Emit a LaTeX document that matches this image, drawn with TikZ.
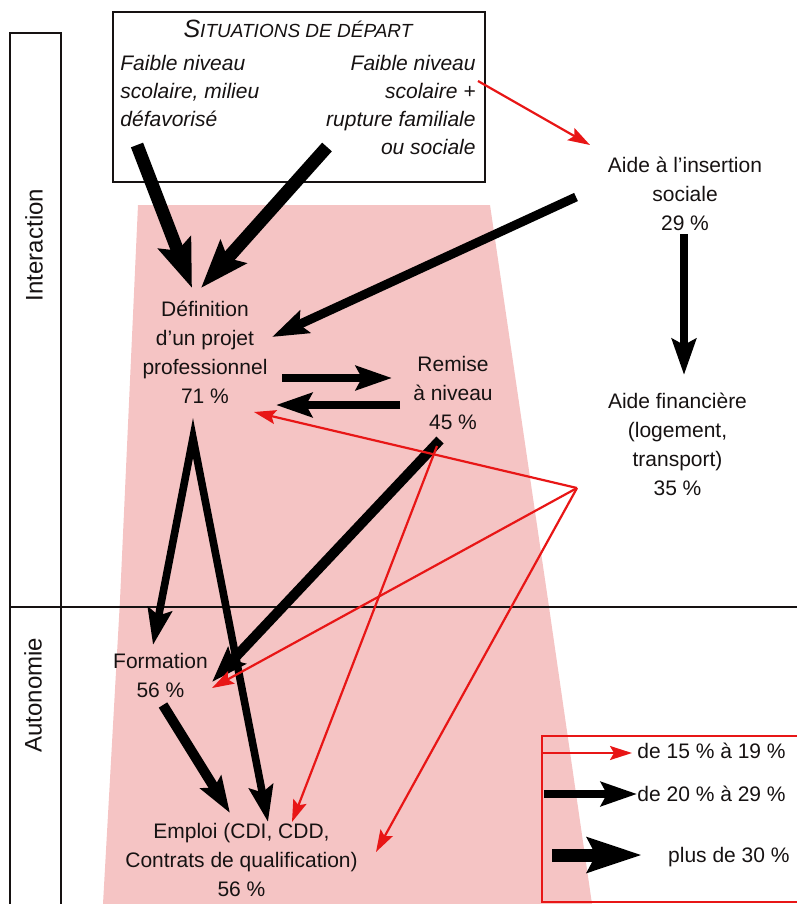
\documentclass[tikz,border=0pt]{standalone}
\usepackage{fontspec}
\setmainfont{Liberation Sans}
\usetikzlibrary{arrows.meta}
\definecolor{pinkbg}{RGB}{245,196,196}
\definecolor{redline}{RGB}{232,22,22}
\definecolor{inkc}{RGB}{22,18,18}
\tikzset{
  TTip/.tip={Stealth[length=24pt,width=17pt,inset=4pt]},
  MTip/.tip={Stealth[length=18pt,width=12pt,inset=3pt]},
  RTip/.tip={Stealth[length=11pt,width=7pt,inset=2pt]},
}
\begin{document}
\begin{tikzpicture}[x=0.5pt,y=-0.5pt,
  lbl/.style={align=center,font=\fontsize{10.5}{14.5}\selectfont,inner sep=0pt,text=inkc},
  sit/.style={font=\fontsize{10.5}{14}\selectfont\itshape,inner sep=0pt,text=inkc},
  rotlbl/.style={rotate=90,font=\fontsize{12}{14}\selectfont,inner sep=0pt,text=inkc},
  leglbl/.style={font=\fontsize{10.5}{14}\selectfont,inner sep=0pt,text=inkc},
  thickarr/.style={line width=6.5pt,-TTip},
  medarr/.style={line width=3.8pt,-MTip},
  redarr/.style={draw=redline,line width=1.1pt,-RTip},
  frame/.style={line width=1pt,draw=inkc},
]
\useasboundingbox (0,0) rectangle (797,904);
\clip (0,0) rectangle (797,904);

% pink zone
\fill[pinkbg] (138,205) -- (490,205) -- (548,600) -- (592,904) -- (103,904) -- (120,600) -- cycle;

% left band and separator
\draw[frame] (10,904) -- (10,33) -- (61,33) -- (61,904);
\draw[frame] (10,607) -- (797,607);
\node[rotlbl] (inter) at (34,245) {Interaction};
\node[rotlbl] (auto) at (33,695) {Autonomie};

% starting situations box
\node[draw=inkc, line width=0.8pt, minimum width=186pt, minimum height=85pt, anchor=north west, inner sep=0pt] (sitbox) at (112,11) {};
\node[font=\itshape, inner sep=0pt, anchor=base, text=inkc] (sittitle) at (298,38)
  {{\fontsize{12.5}{14}\selectfont S}{\fontsize{9.5}{14}\selectfont ITUATIONS DE DÉPART}};
\node[sit, align=left, anchor=north west] (sitleft) at (120,55) {Faible niveau\\scolaire, milieu\\défavorisé};
\node[sit, align=right, anchor=north east] (sitright) at (476,55) {Faible niveau\\scolaire +\\rupture familiale\\ou sociale};

% main nodes
\node[lbl] (def) at (205,352.5) {Définition\\d’un projet\\professionnel\\71 \%};
\node[lbl] (rem) at (453,393) {Remise\\à niveau\\45 \%};
\node[lbl] (ains) at (685,193.5) {Aide à l’insertion\\sociale\\29 \%};
\node[lbl] (afin) at (677.5,444) {Aide financière\\(logement,\\transport)\\35 \%};
\node[lbl] (form) at (160.5,675) {Formation\\56 \%};
\node[lbl] (emp) at (241.5,860) {Emploi (CDI, CDD,\\Contrats de qualification)\\56 \%};

% connector end points
\coordinate (sl-out) at (137,145);
\coordinate (sr-out) at (327,147);
\coordinate (def-in1) at (192,288);
\coordinate (def-in2) at (201,288);
\coordinate (ains-out1) at (576,197);
\coordinate (def-in3) at (272,337);
\coordinate (ains-out2) at (684,234);
\coordinate (afin-in) at (684,375);
\coordinate (def-out1) at (282,378);
\coordinate (rem-in) at (392,378);
\coordinate (rem-out1) at (400,405);
\coordinate (def-in4) at (276,405);
\coordinate (def-apex) at (193,438);
\coordinate (form-in1) at (153,645);
\coordinate (emp-in1) at (268,822);
\coordinate (rem-out2) at (440,440);
\coordinate (form-in2) at (212,682);
\coordinate (form-out) at (163,705);
\coordinate (emp-in2) at (230,813);
\coordinate (sr-out2) at (478,81);
\coordinate (ains-in) at (590,145);
\coordinate (afin-out) at (577,488);
\coordinate (def-in5) at (254,412);
\coordinate (form-in3) at (212,688);
\coordinate (emp-in3) at (376,852);
\coordinate (rem-out3) at (437,446);
\coordinate (emp-in4) at (292,822);

% black connectors
\draw[thickarr] (sl-out) -- (def-in1);
\draw[thickarr] (sr-out) -- (def-in2);
\draw[medarr, line width=4.5pt] (ains-out1) -- (def-in3);
\draw[medarr] (ains-out2) -- (afin-in);
\draw[medarr] (def-out1) -- (rem-in);
\draw[medarr] (rem-out1) -- (def-in4);
\draw[line width=3.8pt, MTip-MTip, line join=miter] (form-in1) -- (def-apex) -- (emp-in1);
\draw[medarr, line width=5pt] (rem-out2) -- (form-in2);
\draw[medarr, line width=5pt] (form-out) -- (emp-in2);

% red connectors
\draw[redarr] (sr-out2) -- (ains-in);
\draw[redarr] (afin-out) -- (def-in5);
\draw[redarr] (afin-out) -- (form-in3);
\draw[redarr] (afin-out) -- (emp-in3);
\draw[redarr] (rem-out3) -- (emp-in4);

% legend
\draw[draw=redline, line width=1pt] (542,736) rectangle (800,902);
\coordinate (lg1a) at (542,753);
\coordinate (lg1b) at (632,753);
\coordinate (lg2a) at (544,794);
\coordinate (lg2b) at (637,794);
\coordinate (lg3a) at (552,855);
\coordinate (lg3b) at (642,855);
\draw[redarr] (lg1a) -- (lg1b);
\draw[line width=3.6pt, -{Stealth[length=18pt,width=12pt,inset=3pt]}] (lg2a) -- (lg2b);
\draw[line width=6.5pt, -{Stealth[length=27pt,width=17pt,inset=4pt]}] (lg3a) -- (lg3b);
\node[leglbl, anchor=west] (lgt1) at (637,751) {de 15 \% à 19 \%};
\node[leglbl, anchor=west] (lgt2) at (637,794) {de 20 \% à 29 \%};
\node[leglbl, anchor=east] (lgt3) at (790,857) {plus de 30 \%};
\end{tikzpicture}
\end{document}
